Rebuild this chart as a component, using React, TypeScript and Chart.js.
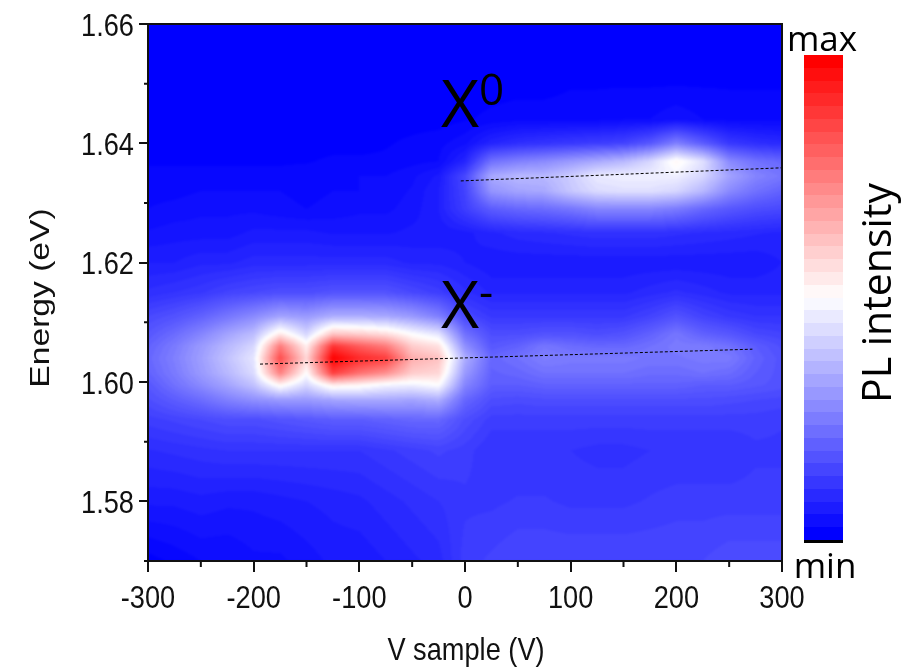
import React, { useEffect, useRef } from "react";
import { Chart, registerables } from "chart.js";

Chart.register(...registerables);

const VOLTAGES = [-300, -275, -250, -225, -200, -175, -150, -125, -100, -75, -50, -25, 0, 25, 50, 75, 100, 125, 150, 175, 200, 225, 250, 275, 300];
const ENERGIES = [1.57, 1.58, 1.5885, 1.5937, 1.597, 1.5995, 1.6015, 1.604, 1.606, 1.608, 1.611, 1.615, 1.62, 1.625, 1.629, 1.632, 1.6345, 1.637, 1.64, 1.644, 1.65, 1.66];

const I_1570 = [0, .01, .02, .02, .03, .03, .04, .05, .05, .06, .07, .08, .12, .13, .14, .14, .14, .14, .14, .14, .14, .14, .15, .15, .15];
const I_1580 = [.05, .05, .055, .05, .05, .055, .06, .065, .07, .08, .09, .1, .11, .11, .115, .115, .11, .11, .11, .115, .12, .12, .12, .12, .12];
const I_15885 = [.085, .09, .095, .1, .1, .1, .1, .1, .1, .11, .12, .13, .12, .1, .1, .1, .1, .095, .095, .1, .1, .1, .1, .11, .11];
const I_15937 = [.12, .13, .14, .15, .15, .16, .17, .18, .18, .19, .2, .2, .15, .12, .12, .12, .12, .12, .12, .12, .12, .12, .12, .12, .115];
const I_1597 = [.15, .18, .21, .25, .28, .3, .3, .32, .33, .33, .32, .34, .2, .15, .145, .15, .15, .15, .15, .15, .15, .15, .145, .14, .135];
const I_15995 = [.17, .22, .27, .32, .38, .52, .42, .54, .52, .48, .47, .5, .26, .18, .18, .19, .19, .19, .19, .19, .19, .18, .18, .17, .16];
const I_16015 = [.19, .24, .3, .36, .43, .75, .5, .88, .78, .72, .6, .58, .3, .19, .2, .22, .22, .22, .22, .21, .21, .22, .21, .18, .16];
const I_1604 = [.2, .25, .31, .38, .45, .85, .58, 1, .92, .88, .66, .62, .34, .2, .22, .25, .24, .24, .24, .23, .23, .24, .24, .19, .16];
const I_1606 = [.19, .24, .3, .36, .42, .76, .53, .9, .82, .76, .6, .56, .28, .17, .19, .23, .21, .2, .2, .22, .24, .24, .22, .18, .15];
const I_1608 = [.17, .21, .26, .32, .37, .55, .42, .62, .6, .57, .5, .45, .22, .15, .15, .16, .16, .15, .16, .19, .23, .19, .17, .14, .13];
const I_1611 = [.14, .16, .19, .23, .27, .32, .3, .34, .34, .33, .3, .25, .14, .11, .11, .11, .11, .11, .11, .13, .16, .13, .11, .1, .1];
const I_1615 = [.09, .1, .11, .13, .14, .15, .15, .16, .16, .16, .14, .12, .09, .07, .07, .07, .07, .07, .07, .08, .09, .08, .07, .07, .07];
const I_1620 = [.06, .06, .07, .07, .08, .08, .08, .08, .08, .08, .07, .07, .06, .05, .05, .05, .05, .05, .05, .05, .05, .05, .05, .05, .06];
const I_1625 = [.035, .04, .04, .04, .05, .05, .05, .045, .045, .045, .05, .05, .055, .07, .08, .085, .09, .095, .095, .095, .09, .085, .08, .075, .07];
const I_1629 = [.02, .025, .03, .03, .03, .025, .02, .025, .03, .03, .04, .06, .12, .18, .2, .21, .23, .26, .26, .26, .24, .2, .17, .15, .14];
const I_1632 = [.015, .015, .02, .02, .02, .02, .015, .02, .02, .025, .035, .06, .13, .29, .32, .33, .39, .43, .44, .44, .42, .36, .27, .22, .19];
const I_16345 = [.01, .01, .01, .01, .01, .01, .015, .015, .02, .02, .03, .05, .14, .33, .36, .36, .4, .46, .47, .47, .47, .42, .32, .26, .23];
const I_1637 = [.005, .005, .005, .005, .005, .005, .005, .01, .01, .01, .015, .02, .07, .22, .25, .27, .3, .33, .36, .42, .52, .44, .27, .22, .2];
const I_1640 = [0, 0, 0, 0, 0, 0, 0, 0, 0, .005, .01, .015, .03, .07, .09, .1, .11, .12, .13, .17, .25, .18, .11, .09, .08];
const I_1644 = [0, 0, 0, 0, 0, 0, 0, 0, 0, 0, 0, 0, .005, .01, .015, .015, .015, .015, .02, .02, .03, .02, .015, .015, .015];
const I_1650 = [0, 0, 0, 0, 0, 0, 0, 0, 0, 0, 0, 0, 0, 0, 0, 0, .005, .005, .005, .005, .005, .005, .005, .005, .005];
const I_1660 = [0, 0, 0, 0, 0, 0, 0, 0, 0, 0, 0, 0, 0, 0, 0, 0, 0, 0, 0, 0, 0, 0, 0, 0, 0];

const INTENSITY = [I_1570, I_1580, I_15885, I_15937, I_1597, I_15995, I_16015, I_1604, I_1606, I_1608, I_1611, I_1615, I_1620, I_1625, I_1629, I_1632, I_16345, I_1637, I_1640, I_1644, I_1650, I_1660];

const X_TICKS = [-300, -200, -100, 0, 100, 200, 300];
const X_MINOR = [-250, -150, -50, 50, 150, 250];
const Y_TICKS = [1.58, 1.6, 1.62, 1.64, 1.66];
const Y_MINOR = [1.57, 1.59, 1.61, 1.63, 1.65];

const X0_FIT_V = [-4, 300];
const X0_FIT_E = [1.6337, 1.6359];
const XM_FIT_V = [-194, 272];
const XM_FIT_E = [1.603, 1.6055];

const COLORBAR_LEVELS = 38;
const ARIAL = '"Liberation Sans", Arial, sans-serif';
const LABEL_FONT = '"Open Sans", "Noto Sans", sans-serif';

function rgbFor(v: number): [number, number, number] {
  const t = Math.max(0, Math.min(1, v));
  if (t <= 0.5) {
    const c = Math.round(t * 2 * 255);
    return [c, c, 255];
  }
  const c = Math.round((1 - t) * 2 * 255);
  return [255, c, c];
}

function locate(arr: number[], v: number): [number, number] {
  let i = 0;
  while (i < arr.length - 2 && v > arr[i + 1]) i++;
  const f = (v - arr[i]) / (arr[i + 1] - arr[i]);
  return [i, Math.max(0, Math.min(1, f))];
}

const heatmapPlugin = {
  id: "heatmap",
  beforeDatasetsDraw(chart: any) {
    const { ctx, chartArea: a, scales } = chart;
    const w = Math.round(a.right - a.left);
    const h = Math.round(a.bottom - a.top);
    const off = document.createElement("canvas");
    off.width = w;
    off.height = h;
    const octx = off.getContext("2d")!;
    const img = octx.createImageData(w, h);
    const levels = 75;
    for (let py = 0; py < h; py++) {
      const e = scales.y.getValueForPixel(a.top + py + 0.5);
      const [r, fr] = locate(ENERGIES, e);
      for (let px = 0; px < w; px++) {
        const x = scales.x.getValueForPixel(a.left + px + 0.5);
        const [c, fc] = locate(VOLTAGES, x);
        const v =
          INTENSITY[r][c] * (1 - fr) * (1 - fc) +
          INTENSITY[r][c + 1] * (1 - fr) * fc +
          INTENSITY[r + 1][c] * fr * (1 - fc) +
          INTENSITY[r + 1][c + 1] * fr * fc;
        const q = Math.round(v * levels) / levels;
        const [cr, cg, cb] = rgbFor(q);
        const k = (py * w + px) * 4;
        img.data[k] = cr;
        img.data[k + 1] = cg;
        img.data[k + 2] = cb;
        img.data[k + 3] = 255;
      }
    }
    octx.putImageData(img, 0, 0);
    ctx.save();
    ctx.beginPath();
    ctx.rect(a.left, a.top, w, h);
    ctx.clip();
    ctx.drawImage(off, a.left, a.top);
    ctx.filter = "blur(1.2px)";
    ctx.drawImage(off, a.left, a.top);
    ctx.restore();
  },
};

const decorPlugin = {
  id: "decor",
  afterDraw(chart: any) {
    const { ctx, chartArea: a, scales } = chart;
    ctx.save();
    ctx.strokeStyle = "#111";
    ctx.lineWidth = 2;
    ctx.strokeRect(a.left, a.top, a.right - a.left, a.bottom - a.top);
    ctx.beginPath();
    X_MINOR.forEach((v) => {
      const p = scales.x.getPixelForValue(v);
      ctx.moveTo(p, a.bottom);
      ctx.lineTo(p, a.bottom + 6);
    });
    Y_MINOR.forEach((v) => {
      const p = scales.y.getPixelForValue(v);
      ctx.moveTo(a.left, p);
      ctx.lineTo(a.left - 4, p);
    });
    ctx.stroke();

    // Tick labels, condensed like the reference's squeezed Arial
    ctx.fillStyle = "#111";
    ctx.font = `32px ${ARIAL}`;
    ctx.textBaseline = "alphabetic";
    X_TICKS.forEach((v) => {
      ctx.save();
      ctx.translate(scales.x.getPixelForValue(v), 608);
      ctx.scale(0.85, 1);
      ctx.textAlign = "center";
      ctx.fillText(String(v), 0, 0);
      ctx.restore();
    });
    Y_TICKS.forEach((v) => {
      ctx.save();
      ctx.translate(134, scales.y.getPixelForValue(v) + 11.5);
      ctx.scale(0.85, 1);
      ctx.textAlign = "right";
      ctx.fillText(v.toFixed(2), 0, 0);
      ctx.restore();
    });

    // X axis title
    ctx.save();
    ctx.translate(466, 660);
    ctx.scale(0.85, 1);
    ctx.textAlign = "center";
    ctx.fillText("V sample (V)", 0, 0);
    ctx.restore();

    // Y axis title
    ctx.save();
    ctx.translate(49, 298);
    ctx.rotate(-Math.PI / 2);
    ctx.scale(1.2, 1);
    ctx.font = `28px ${ARIAL}`;
    ctx.textAlign = "center";
    ctx.fillText("Energy (eV)", 0, 0);
    ctx.restore();

    // Peak labels
    ctx.fillStyle = "#000";
    ctx.textAlign = "left";
    ctx.font = `66px ${LABEL_FONT}`;
    ctx.fillText("X", 441, 127);
    ctx.fillText("X", 441, 328);
    ctx.font = `44px ${LABEL_FONT}`;
    ctx.fillText("0", 479, 105);
    ctx.fillText("-", 479, 307);

    // Colour bar
    const barL = 804, barW = 39, barT = 55, barB = 540;
    const step = (barB - barT) / COLORBAR_LEVELS;
    for (let i = 0; i < COLORBAR_LEVELS; i++) {
      const [r, g, b] = rgbFor(i / (COLORBAR_LEVELS - 1));
      ctx.fillStyle = `rgb(${r},${g},${b})`;
      const yTop = Math.round(barB - (i + 1) * step);
      const yBot = Math.round(barB - i * step);
      ctx.fillRect(barL, yTop, barW, yBot - yTop);
    }
    ctx.fillStyle = "#000";
    ctx.fillRect(barL, barB, barW, 3);

    ctx.font = `35px ${LABEL_FONT}`;
    ctx.textAlign = "center";
    ctx.fillText("max", 822, 51);
    ctx.fillText("min", 825, 578);

    ctx.save();
    ctx.translate(891, 293);
    ctx.rotate(-Math.PI / 2);
    ctx.font = `41px ${LABEL_FONT}`;
    ctx.textAlign = "center";
    ctx.fillText("PL intensity", 0, 0);
    ctx.restore();
    ctx.restore();
  },
};

export default function App() {
  const ref = useRef<HTMLCanvasElement>(null);
  useEffect(() => {
    const chart = new Chart(ref.current!, {
      type: "scatter",
      data: {
        datasets: [
          {
            label: "X0 fit",
            data: X0_FIT_V.map((v, i) => ({ x: v, y: X0_FIT_E[i] })),
            showLine: true,
            borderColor: "#000",
            borderWidth: 1,
            borderDash: [3, 2],
            pointRadius: 0,
          },
          {
            label: "X- fit",
            data: XM_FIT_V.map((v, i) => ({ x: v, y: XM_FIT_E[i] })),
            showLine: true,
            borderColor: "#000",
            borderWidth: 1,
            borderDash: [3, 2],
            pointRadius: 0,
          },
        ],
      },
      options: {
        responsive: false,
        animation: false,
        layout: { padding: { top: 24, right: 135, left: 0, bottom: 0 } },
        plugins: { legend: { display: false }, tooltip: { enabled: false } },
        scales: {
          x: {
            type: "linear",
            min: -300,
            max: 300,
            afterBuildTicks: (s: any) => {
              s.ticks = X_TICKS.map((value) => ({ value }));
            },
            afterFit: (s: any) => {
              s.height = 106;
            },
            grid: { drawOnChartArea: false, tickLength: 11, color: "#111", lineWidth: 2 },
            border: { display: false },
            ticks: { display: false },
          },
          y: {
            type: "linear",
            min: 1.57,
            max: 1.66,
            afterBuildTicks: (s: any) => {
              s.ticks = Y_TICKS.map((value) => ({ value }));
            },
            afterFit: (s: any) => {
              s.width = 148;
            },
            grid: { drawOnChartArea: false, tickLength: 9, color: "#111", lineWidth: 2 },
            border: { display: false },
            ticks: { display: false },
          },
        },
      },
      plugins: [heatmapPlugin, decorPlugin],
    } as any);
    return () => chart.destroy();
  }, []);
  return (
    <div style={{ position: "absolute", left: 0, top: 0, width: 917, height: 667 }}>
      <canvas ref={ref} width={917} height={667} style={{ display: "block" }} />
    </div>
  );
}
